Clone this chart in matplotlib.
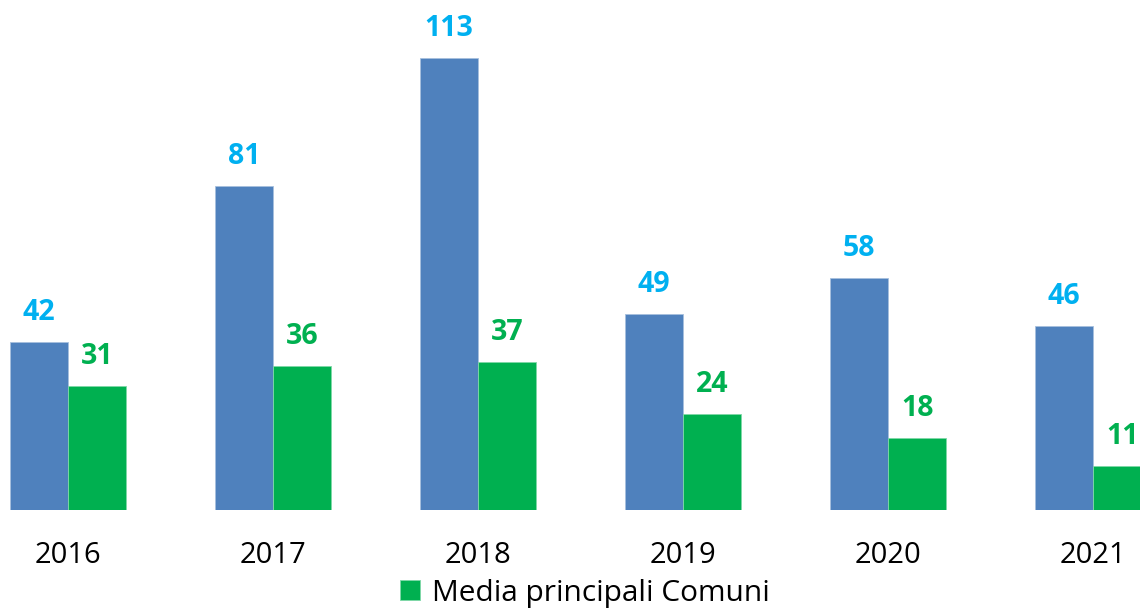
import numpy as np
import matplotlib.pyplot as plt

years = ["2016", "2017", "2018", "2019", "2020", "2021"]
comune = [42, 81, 113, 49, 58, 46]
media = [31, 36, 37, 24, 18, 11]

blue = "#4F81BD"
green = "#00B050"
label_blue = "#00B0F0"

plt.rcParams['font.family'] = ['Open Sans', 'DejaVu Sans']

fig = plt.figure(figsize=(11.4, 6.08), dpi=100)
ax = fig.add_axes([0, 0.161, 1, 0.839])

x = np.arange(len(years))
w = 0.285
b1 = ax.bar(x - w/2, comune, w, color=blue, edgecolor="#A7C0DE", linewidth=0.6)
b2 = ax.bar(x + w/2, media, w, color=green, edgecolor="#7FD8A8", linewidth=0.6,
            label="Media principali Comuni")

for xi, v in zip(x, comune):
    ax.annotate(str(v), (xi - w/2, v), xytext=(0, 11), textcoords="offset points",
                ha="center", va="bottom", color=label_blue, fontsize=20.5, fontweight="bold")
for xi, v in zip(x, media):
    ax.annotate(str(v), (xi + w/2, v), xytext=(0, 11), textcoords="offset points",
                ha="center", va="bottom", color=green, fontsize=20.5, fontweight="bold")

ax.set_xlim(-0.3317, 5.229)
ax.set_ylim(0, 127.5)
ax.set_xticks(x)
ax.set_xticklabels(years, fontsize=21)
ax.tick_params(axis="x", length=0, pad=22)
ax.set_yticks([])
for s in ax.spines.values():
    s.set_visible(False)

fig.legend(handles=[b2], labels=["Media principali Comuni"], loc="center",
           bbox_to_anchor=(0.513, 0.024), frameon=False, fontsize=21.5,
           handlelength=0.65, handleheight=0.65, handletextpad=0.4)

fig.savefig("out.png", dpi=100)
